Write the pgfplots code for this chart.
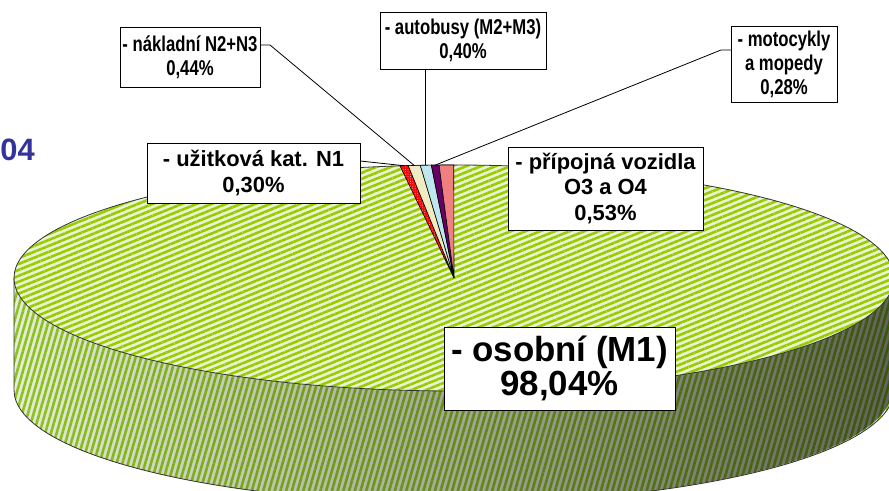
\documentclass[border=0pt]{standalone}
\usepackage{fontspec}
\setmainfont{Liberation Sans}
\newfontfamily\narrowfont{Liberation Sans}[FakeStretch=0.78]
\usepackage{pgfplots}
\pgfplotsset{compat=1.18}
\usepackage{pgfplotstable}
\usetikzlibrary{patterns,patterns.meta,fadings}

\definecolor{cTopLight}{HTML}{EAF4D4}
\definecolor{cTopGreen}{HTML}{99CC00}
\definecolor{cSideLight}{HTML}{E6EEDA}
\definecolor{cSideGreen}{HTML}{8FC41E}
\definecolor{cRed}{HTML}{FF0000}
\definecolor{cBeige}{HTML}{F0EBC0}
\definecolor{cCyan}{HTML}{BEE6EE}
\definecolor{cPurple}{HTML}{660066}
\definecolor{cPink}{HTML}{F08080}
\definecolor{cEdge}{HTML}{333333}
\definecolor{cTitle}{HTML}{333399}

\tikzfading[name=sidefade, left color=transparent!100, middle color=transparent!88, right color=transparent!42]

\pgfplotstableread{
name value
osobni 98.04
uzitkova 0.30
nakladni 0.44
autobusy 0.40
motocykly 0.28
pripojna 0.53
}\piedata

\pgfplotstablegetelem{0}{value}\of\piedata \pgfmathsetmacro\vA{\pgfplotsretval}
\pgfplotstablegetelem{1}{value}\of\piedata \pgfmathsetmacro\vB{\pgfplotsretval}
\pgfplotstablegetelem{2}{value}\of\piedata \pgfmathsetmacro\vC{\pgfplotsretval}
\pgfplotstablegetelem{3}{value}\of\piedata \pgfmathsetmacro\vD{\pgfplotsretval}
\pgfplotstablegetelem{4}{value}\of\piedata \pgfmathsetmacro\vE{\pgfplotsretval}
\pgfplotstablegetelem{5}{value}\of\piedata \pgfmathsetmacro\vF{\pgfplotsretval}

% slice boundary angles (start at 12 o'clock, clockwise)
\pgfmathsetmacro\aO{90}
\pgfmathsetmacro\aA{\aO-3.6*\vA}
\pgfmathsetmacro\aB{\aA-3.6*\vB}
\pgfmathsetmacro\aC{\aB-3.6*\vC}
\pgfmathsetmacro\aD{\aC-3.6*\vD}
\pgfmathsetmacro\aE{\aD-3.6*\vE}
\pgfmathsetmacro\aF{\aE-3.6*\vF}
% mid angles
\pgfmathsetmacro\mB{(\aA+\aB)/2}
\pgfmathsetmacro\mC{(\aB+\aC)/2}
\pgfmathsetmacro\mD{(\aC+\aD)/2}
\pgfmathsetmacro\mE{(\aD+\aE)/2}

\def\cx{454}
\def\cy{213}
\def\rx{440}
\def\ry{113}
\def\th{112}

\newcommand{\slice}[3]{% start, end, style
  \path[#3] (axis cs:\cx,\cy) -- (axis cs:{\cx+\rx*cos(#1)},{\cy+\ry*sin(#1)})
    arc[start angle=#1, end angle=#2, x radius=\rx bp, y radius=\ry bp] -- cycle;}

\tikzset{lbl/.style={draw=black, line width=0.8bp, fill=white, align=center, inner sep=0pt,
  font=\fontsize{22}{25.5}\selectfont\bfseries},
  lbls/.style={lbl, font=\narrowfont\fontsize{21.5}{24}\selectfont\bfseries}}

\begin{document}
\begin{tikzpicture}
\begin{axis}[at={(0,0)}, anchor=south west, scale only axis,
  width=889bp, height=491bp, xmin=0, xmax=889, ymin=0, ymax=491,
  hide axis, clip=true]

% side wall (front)
\path[fill=cSideLight, postaction={pattern={Lines[angle=74,distance=5.5bp,line width=2.6bp]}, pattern color=cSideGreen}]
  (axis cs:\cx-\rx,\cy) -- (axis cs:\cx-\rx,\cy-\th)
  arc[start angle=180,end angle=360,x radius=\rx bp,y radius=\ry bp]
  -- (axis cs:\cx+\rx,\cy)
  arc[start angle=0,end angle=-180,x radius=\rx bp,y radius=\ry bp] -- cycle;
\path[fill=black, path fading=sidefade]
  (axis cs:\cx-\rx,\cy) -- (axis cs:\cx-\rx,\cy-\th)
  arc[start angle=180,end angle=360,x radius=\rx bp,y radius=\ry bp]
  -- (axis cs:\cx+\rx,\cy)
  arc[start angle=0,end angle=-180,x radius=\rx bp,y radius=\ry bp] -- cycle;
\draw[cEdge, line width=0.8bp] (axis cs:\cx-\rx,\cy) -- (axis cs:\cx-\rx,\cy-\th)
  arc[start angle=180,end angle=360,x radius=\rx bp,y radius=\ry bp];

% top face: osobni slice
\slice{\aO}{\aA}{fill=cTopLight, postaction={pattern={Lines[angle=22,distance=5.5bp,line width=2.6bp]}, pattern color=cTopGreen}}
\draw[cEdge, line width=0.8bp] (axis cs:\cx,\cy) ellipse[x radius=\rx bp, y radius=\ry bp];

% small slices
\slice{\aA}{\aB}{fill=cRed, postaction={pattern={Dots[radius=0.5bp,distance=2.4bp]}, pattern color=white!75!red}}
\slice{\aA}{\aB}{draw=black, line width=0.6bp}
\slice{\aB}{\aC}{fill=cBeige, draw=black, line width=0.6bp}
\slice{\aC}{\aD}{fill=cCyan, draw=black, line width=0.6bp}
\slice{\aD}{\aE}{fill=cPurple, draw=black, line width=0.6bp}
\slice{\aE}{\aF}{fill=cPink, draw=black, line width=0.6bp}

% leader lines
\draw[black, line width=0.8bp] (axis cs:360,330) -- (axis cs:{\cx+\rx*cos(\mB)},{\cy+\ry*sin(\mB)});
\draw[black, line width=0.8bp] (axis cs:260,446) -- (axis cs:270,446) -- (axis cs:{\cx+\rx*cos(\mC)},{\cy+\ry*sin(\mC)});
\draw[black, line width=0.8bp] (axis cs:{\cx+\rx*cos(\mD)},423) -- (axis cs:{\cx+\rx*cos(\mD)},{\cy+\ry*sin(\mD)});
\draw[black, line width=0.8bp] (axis cs:731,441) -- (axis cs:721,441) -- (axis cs:{\cx+\rx*cos(\mE)},{\cy+\ry*sin(\mE)});

% labels
\node[lbl, minimum width=213bp, minimum height=60bp] at (axis cs:253.5,318) {- užitková kat. N1\\0,30\%};
\node[lbls, minimum width=140bp, minimum height=60bp] at (axis cs:190,434) {- nákladní N2+N3\\0,44\%};
\node[lbls, minimum width=166bp, minimum height=57bp] at (axis cs:463,450.5) {- autobusy (M2+M3)\\0,40\%};
\node[lbls, minimum width=106bp, minimum height=76bp] at (axis cs:784,427) {- motocykly\\a mopedy\\0,28\%};
\node[lbl, minimum width=195bp, minimum height=83bp] at (axis cs:605.5,302.5) {- přípojná vozidla\\O3 a O4\\0,53\%};
\node[lbl, minimum width=231bp, minimum height=83bp, font=\fontsize{35}{34}\selectfont\bfseries] at (axis cs:559.5,122.5) {- osobní (M1)\\98,04\%};

\node[anchor=base east, text=cTitle, font=\fontsize{31}{31}\selectfont\bfseries, inner sep=0pt] at (axis cs:35,330) {04};
\end{axis}
\pgfresetboundingbox
\path (0,0) rectangle (889bp,491bp);
\end{tikzpicture}
\end{document}
